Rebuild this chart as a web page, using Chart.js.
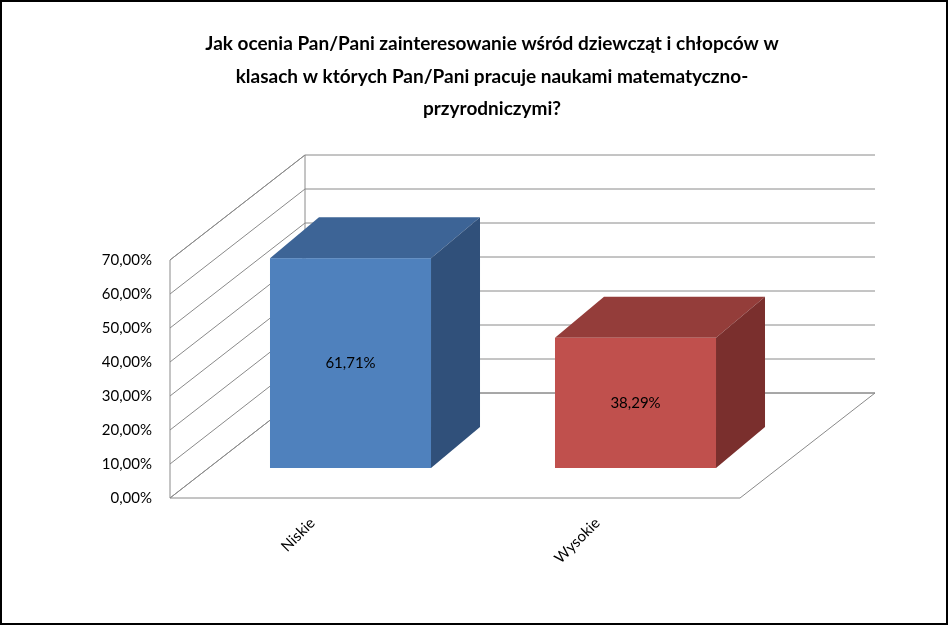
<!DOCTYPE html>
<html><head><meta charset="utf-8">
<script src="https://cdn.jsdelivr.net/npm/chart.js@4"></script>
<style>html,body{margin:0;padding:0;background:#fff}
#wrap{position:relative;width:948px;height:625px;box-sizing:border-box;border:2px solid #000}
</style></head><body>
<div id="wrap"><canvas id="c" width="944" height="621"></canvas></div>
<script>
const categories = ["Niskie", "Wysokie"];
const values = [0.6171, 0.3829];
const valueLabels = ["61,71%", "38,29%"];
const titleLines = ["Jak ocenia Pan/Pani zainteresowanie wśród dziewcząt i chłopców w",
  "klasach w których Pan/Pani pracuje naukami matematyczno-",
  "przyrodniczymi?"];
const fronts = ["#4F81BD", "#C0504D"];
const tops = ["#3D6496", "#943D3A"];
const sides = ["#30507A", "#7A2F2D"];
const FONT = "Lato, 'Open Sans', sans-serif";

const WX = 135, WY = -105;  // wall depth
const BX = 38, BY = -30;    // bar front offset
const DX = 49, DY = -41;    // bar depth

const plugin3d = {
  id: 'p3d',
  beforeDatasetsDraw(chart) {
    const ctx = chart.ctx, y = chart.scales.y, a = chart.chartArea;
    const L = a.left, R = a.right, B = y.getPixelForValue(0);
    ctx.save();
    ctx.strokeStyle = '#8a8a8a'; ctx.lineWidth = 1;
    // floor
    ctx.beginPath(); ctx.moveTo(L, B); ctx.lineTo(R, B); ctx.lineTo(R + WX, B + WY); ctx.lineTo(L + WX, B + WY); ctx.closePath(); ctx.stroke();
    // left wall + grid
    ctx.beginPath(); ctx.moveTo(L, B); ctx.lineTo(L, y.getPixelForValue(0.7)); ctx.lineTo(L + WX, y.getPixelForValue(0.7) + WY); ctx.lineTo(L + WX, B + WY); ctx.stroke();
    y.ticks.forEach(t => {
      const py = y.getPixelForValue(t.value);
      ctx.beginPath(); ctx.moveTo(L, py); ctx.lineTo(L + WX, py + WY); ctx.lineTo(R + WX, py + WY); ctx.stroke();
    });
    ctx.restore();
  },
  afterDatasetsDraw(chart) {
    const ctx = chart.ctx;
    const meta = chart.getDatasetMeta(0);
    ctx.save();
    meta.data.forEach((el, i) => {
      const w = el.width, x0 = el.x - w / 2 + BX, x1 = el.x + w / 2 + BX;
      const yt = el.y + BY, yb = el.base + BY;
      ctx.fillStyle = tops[i];
      ctx.beginPath(); ctx.moveTo(x0, yt); ctx.lineTo(x0 + DX, yt + DY); ctx.lineTo(x1 + DX, yt + DY); ctx.lineTo(x1, yt); ctx.closePath(); ctx.fill();
      ctx.fillStyle = sides[i];
      ctx.beginPath(); ctx.moveTo(x1, yt); ctx.lineTo(x1 + DX, yt + DY); ctx.lineTo(x1 + DX, yb + DY); ctx.lineTo(x1, yb); ctx.closePath(); ctx.fill();
      ctx.fillStyle = fronts[i];
      ctx.fillRect(x0, yt, w, yb - yt);
      ctx.fillStyle = '#000'; ctx.font = '15px ' + FONT; ctx.textAlign = 'center'; ctx.textBaseline = 'middle';
      ctx.fillText(valueLabels[i], (x0 + x1) / 2, (yt + yb) / 2);
    });
    ctx.font = 'bold 19px ' + FONT; ctx.fillStyle = '#000'; ctx.textAlign = 'center'; ctx.textBaseline = 'middle';
    const ys = [42, 75, 107];
    titleLines.forEach((l, k) => ctx.fillText(l, 490, ys[k]));
    ctx.restore();
  }
};

new Chart(document.getElementById('c'), {
  type: 'bar',
  data: { labels: categories, datasets: [{ data: values, backgroundColor: 'rgba(0,0,0,0)', barPercentage: 0.565, categoryPercentage: 1 }] },
  options: {
    responsive: false, animation: false,
    layout: { padding: { top: 258, right: 206, left: 0, bottom: 0 } },
    plugins: { legend: { display: false }, tooltip: { enabled: false } },
    scales: {
      y: {
        min: 0, max: 0.7,
        ticks: { stepSize: 0.1, color: '#000', font: { size: 15, family: FONT }, padding: 10,
          callback: v => (v * 100).toFixed(2).replace('.', ',') + '%' },
        grid: { display: false }, border: { display: false },
        afterFit: s => { s.width = 168; }
      },
      x: {
        ticks: { color: '#000', font: { size: 15, family: FONT }, minRotation: 45, maxRotation: 45, padding: 8 },
        grid: { display: false }, border: { display: false },
        afterFit: s => { s.height = 125; }
      }
    }
  },
  plugins: [plugin3d]
});
</script></body></html>
